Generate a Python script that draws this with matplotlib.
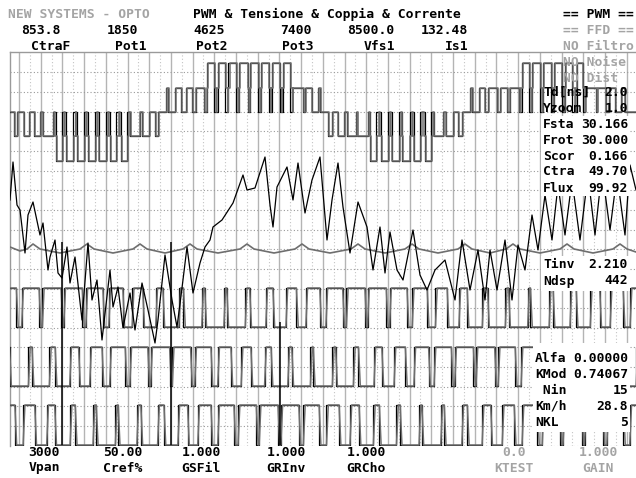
import matplotlib
matplotlib.use("Agg")
import matplotlib.pyplot as plt
from matplotlib.patches import Rectangle
import numpy as np

W_PX, H_PX = 636, 478
T_END = 626          # samples on screen
PERIOD = 21.7        # carrier period = one grid division (samples)
T0 = 9.0             # first carrier centre
CELL = PERIOD / 2    # half carrier for the line voltage trace
DIV_Y = 19.65        # counts per vertical division

# ---- trace A: line voltage, modulation level read per half carrier ----
a_mod = [-0.3, -0.5, -0.6, -1.0, -1.1, -1.3, -1.3, -1.3, -1.3, -1.2, -1.1, -0.9,
         -0.6, -0.3, 0.2, 0.5, 0.6, 0.8, 1.2, 1.4, 1.5, 1.6, 1.6, 1.5, 1.5, 1.3,
         1.0, 0.6, 0.2, -0.4, -0.6, -0.8, -1.0, -1.1, -1.3, -1.3, -1.3, -1.2,
         -1.1, -0.9, -0.7, -0.4, 0.2, 0.5, 0.8, 0.6, 0.9, 1.3, 1.4, 1.5, 1.5,
         1.3, 1.1, 1.0, 0.8, 0.6, 0.3, 0.0]

# ---- trace B: phase current (samples, counts from its zero) ----
b_t = [0, 3, 7, 10, 12, 15, 18, 23, 30, 33, 38, 40, 45, 48, 52, 57, 60, 65, 72,
       78, 82, 87, 92, 100, 103, 108, 113, 120, 125, 132, 138, 145, 148, 155,
       162, 167, 172, 177, 183, 190, 195, 200, 203, 212, 223, 233, 237, 245,
       255, 260, 263, 267, 277, 283, 288, 295, 302, 310, 317, 322, 328, 333,
       340, 348, 357, 363, 370, 375, 380, 387, 393, 403, 410, 417, 425, 435,
       445, 452, 460, 468, 475, 480, 487, 495, 502, 508, 515, 522, 528, 535,
       542, 548, 555, 562, 570, 578, 585, 592, 600, 607, 615, 620, 626]
b_v = [35, 73, 30, 25, 8, -18, 20, 33, 0, 12, -35, -22, -5, -38, -43, -12, -48,
       -22, -85, -8, -65, -45, -105, -35, -72, -52, -93, -58, -95, -48, -75,
       -108, -85, -20, -65, -92, -53, -12, -58, -28, -12, -5, 8, 15, 32, 60, 45,
       47, 78, 30, 8, 48, 68, 35, 72, 22, 55, 78, -5, 35, 72, 28, -18, 33, 8,
       -35, 8, -38, 3, -35, -45, 5, -40, -55, -35, -25, -65, -5, -55, -15, -65,
       -15, -55, -5, -65, -10, -35, 20, -15, 40, -5, 50, 0, 55, -5, 60, 0, 65,
       5, 60, 0, 70, 45]

# ---- trace C: flux estimate ----
c_t = [0, 10, 17, 23, 30, 50, 70, 77, 84, 103, 123, 130, 137, 155, 173, 180,
       187, 208, 230, 237, 244, 264, 285, 292, 299, 320, 341, 348, 355, 375,
       395, 402, 409, 428, 448, 455, 462, 480, 496, 503, 510, 530, 550, 557,
       564, 583, 603, 610, 617, 626]
c_v = [3, -1, 1, 6, 1, -3, 1, 6, 1, -3, 1, 6, 1, -3, 1, 6, 1, -3, 1, 6, 1, -3,
       1, 6, 1, -3, 1, 6, 1, -3, 1, 6, 1, -3, 1, 6, 1, -3, 1, 6, 1, -3, 1, 6,
       1, -3, 1, 6, 1, -2]

# ---- traces D, E, F: gate signals, low fraction per carrier period ----
d_duty = [0.24, 0.15, 0.12, 0.16, 0.27, 0.43, 0.60, 0.74, 0.84, 0.88, 0.85,
          0.74, 0.60, 0.43, 0.28, 0.17, 0.12, 0.15, 0.24, 0.38, 0.54, 0.70,
          0.82, 0.88, 0.86, 0.78, 0.65, 0.48, 0.32]
e_duty = [0.87, 0.80, 0.67, 0.51, 0.35, 0.21, 0.13, 0.12, 0.19, 0.31, 0.47,
          0.63, 0.77, 0.86, 0.88, 0.82, 0.71, 0.56, 0.39, 0.25, 0.15, 0.12,
          0.16, 0.27, 0.42, 0.59, 0.73, 0.84, 0.88]
f_duty = [0.38, 0.55, 0.71, 0.82, 0.88, 0.86, 0.77, 0.64, 0.47, 0.31, 0.19,
          0.13, 0.13, 0.21, 0.34, 0.50, 0.66, 0.79, 0.87, 0.87, 0.81, 0.68,
          0.53, 0.36, 0.22, 0.14, 0.12, 0.18, 0.29]

cursor_t = [52, 161, 270]
cursor_top = [204, 204, 124]

header_vals = ["853.8", "1850", "4625", "7400", "8500.0", "132.48"]
header_names = ["CtraF", "Pot1", "Pot2", "Pot3", "Vfs1", "Is1"]
footer_vals = ["3000", "50.00", "1.000", "1.000", "1.000", "0.0", "1.000"]
footer_names = ["Vpan", "Cref%", "GSFil", "GRInv", "GRCho", "KTEST", "GAIN"]
side_top = ["== PWM ==", "== FFD ==", "NO Filtro", "NO Noise", "NO Dist"]
side_box1 = [("Td[ns]", "2.0"), ("Yzoom", "1.0"), ("Fsta", "30.166"),
             ("Frot", "30.000"), ("Scor", "0.166"), ("Ctra", "49.70"),
             ("Flux", "99.92")]
side_box2 = [("Tinv", "2.210"), ("Ndsp", "442")]
side_box3 = [("Alfa", "0.00000"), ("KMod", "0.74067"), (" Nin", "15"),
             ("Km/h", "28.8"), ("NKL", "5")]


def pwm_trace(duty, hi, lo, slant):
    xs, ys = [-PERIOD], [hi]
    for k, d in enumerate(duty):
        c = T0 + k * PERIOD
        a, b = c - d * PERIOD / 2, c + d * PERIOD / 2
        xs += [a, a + slant, b, b + slant]
        ys += [hi, lo, lo, hi]
    xs.append(T_END + PERIOD)
    ys.append(hi)
    return xs, ys


def line_voltage(mod, base, step, stair, shift):
    # small modulation: pulses 0 <-> +-1, large: 0 <-> +-2
    xs, ys = [], []
    for i, v in enumerate(mod):
        a = i * CELL + shift
        b = a + CELL
        c = a + CELL / 2
        s = np.sign(v)
        m = abs(v)
        if m <= 1:
            w = m * CELL
            segs = [(a, c - w / 2, 0), (c - w / 2, c + w / 2, s),
                    (c + w / 2, b, 0)]
        else:
            w = min(m / 2 * CELL + 2 * stair, CELL * 0.95)
            p, q = c - w / 2, c + w / 2
            segs = [(a, p, 0), (p, p + stair, s), (p + stair, q - stair, 2 * s),
                    (q - stair, q, s), (q, b, 0)]
        for t0, t1, lev in segs:
            xs += [t0, t1]
            ys += [base + lev * step] * 2
    return xs, ys


FONT = dict(family="DejaVu Sans Mono", fontweight="bold", fontsize=9.4)
GRAY_TXT = "#a4a4a4"


def ftext(x, y, s, ha="center", color="black", **kw):
    fig.text(x / W_PX, 1 - y / H_PX, s, ha=ha, va="center", color=color,
             **FONT, **kw)


fig = plt.figure(figsize=(W_PX / 100, H_PX / 100), dpi=100)
ax = fig.add_axes([10 / W_PX, 1 - 446 / H_PX, T_END / W_PX, 394 / H_PX])
ax.set_xlim(0, T_END)
ax.set_ylim(0, 394)
ax.set_xticks([])
ax.set_yticks([])
for side in ["bottom", "right"]:
    ax.spines[side].set_visible(False)
for side in ["top", "left"]:
    ax.spines[side].set_color("#9a9a9a")
    ax.spines[side].set_linewidth(1.0)

# grid
for k in range(29):
    ax.axvline(T0 + k * PERIOD, color="#b4b4b4", lw=1.0, zorder=1)
    ax.axvline(T0 + (k + 0.5) * PERIOD, color="#c4c4c4", lw=0.8,
               ls=(0, (1, 2)), zorder=1)
for j in range(1, 21):
    ax.axhline(393.3 - j * DIV_Y, color="#9a9a9a", lw=0.8, ls=(0, (1, 2)),
               zorder=1)

TRACE_GRAY = "#6e6e6e"

# trace A
xs, ys = line_voltage(a_mod, 334, 24.3, 0, 0)
ax.plot(xs, ys, color="black", lw=0.9, zorder=3)
xs, ys = line_voltage(a_mod, 334, 24.3, 1.5, 0.8)
ax.plot(xs, ys, color=TRACE_GRAY, lw=1.1, zorder=4)

# traces D, E, F
for duty, hi, lo in ((d_duty, 158, 119), (e_duty, 99, 60), (f_duty, 41, 1)):
    xs, ys = pwm_trace(duty, hi, lo, 0)
    ax.plot(xs, ys, color="black", lw=0.9, zorder=3)
    xs, ys = pwm_trace(duty, hi, lo, 1.8)
    ax.plot(xs, ys, color=TRACE_GRAY, lw=1.1, zorder=4)

# trace C and B
ax.plot(c_t, np.array(c_v) + 196, color=TRACE_GRAY, lw=1.2, zorder=4)
ax.plot(b_t, np.array(b_v) + 211, color="black", lw=0.9, zorder=5)

ax.vlines(cursor_t, 1, cursor_top, color="black", lw=1.1, zorder=5)

# header
ftext(8, 14, "NEW SYSTEMS - OPTO", ha="left", color=GRAY_TXT)
ftext(193, 14, "PWM & Tensione & Coppia & Corrente", ha="left")
for x, s in zip([41, 122, 209, 296, 371, 444], header_vals):
    ftext(x, 30, s)
for x, s in zip([51, 131, 212, 298, 379, 457], header_names):
    ftext(x, 46, s)

# footer
foot_x = [44, 123, 201, 286, 366, 514, 598]
for i, (x, v, n) in enumerate(zip(foot_x, footer_vals, footer_names)):
    col = GRAY_TXT if i >= 5 else "black"
    ftext(x, 453, v, color=col)
    ftext(x, 468, n, color=col)

# side panel
for i, s in enumerate(side_top):
    col = "black" if i == 0 else GRAY_TXT
    ftext(563, 14 + 16 * i, s, ha="left", color=col, zorder=2)

for (x0, y0, x1, y1) in ((541, 116, 630, 196), (541, 256, 630, 291),
                         (533, 343, 630, 432)):
    fig.add_artist(Rectangle((x0 / W_PX, 1 - y1 / H_PX), (x1 - x0) / W_PX,
                             (y1 - y0) / H_PX, transform=fig.transFigure,
                             facecolor="white", edgecolor="none", zorder=6))

for rows, y0, xl in ((side_box1, 92, 543), (side_box2, 265, 543),
                     (side_box3, 358, 535)):
    for i, (lab, val) in enumerate(rows):
        y = y0 + 16.0 * i
        ftext(xl, y, lab, ha="left", zorder=7)
        ftext(628, y, val, ha="right", zorder=7)

fig.savefig("out.png", dpi=100)
